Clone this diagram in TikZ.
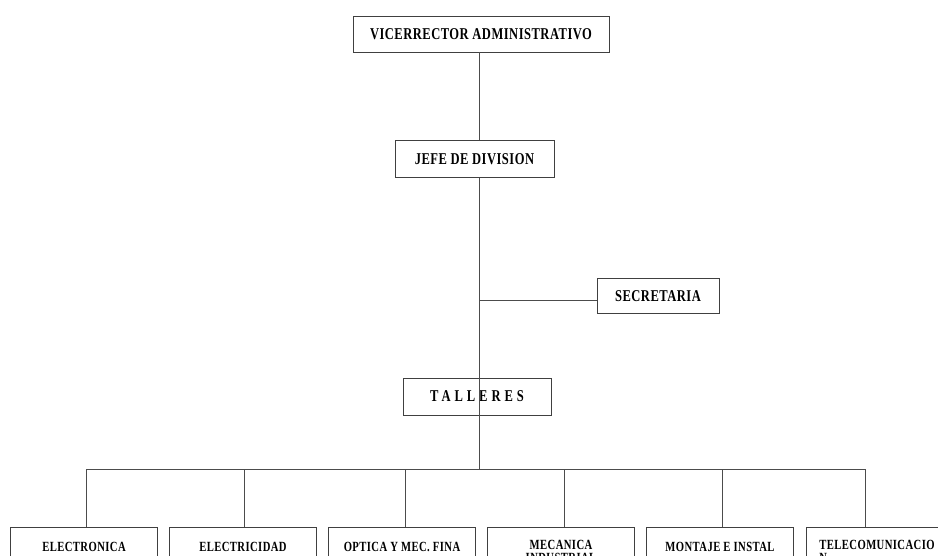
\documentclass[tikz,border=0pt]{standalone}
\usepackage{fontspec}
\newfontfamily\orgfont{Liberation Serif}[FakeStretch=0.76,LetterSpace=3]
\begin{document}
\begin{tikzpicture}[x=1pt,y=-1pt,
  box/.style={draw=black!75, line width=0.8pt, rectangle, inner sep=0pt, text=black,
    font=\orgfont\bfseries\fontsize{16.5}{18}\selectfont},
  sub/.style={draw=black!75, line width=0.8pt, rectangle, inner sep=0pt, anchor=north,
    minimum width=147pt, minimum height=40pt, align=center, text=black,
    font=\orgfont\bfseries\fontsize{14}{13.5}\selectfont},
  conn/.style={draw=black!70, line width=0.8pt}]
\useasboundingbox (0,0) rectangle (938,555);
\clip (0,0) rectangle (938,555);
% main chain
\node[box, minimum width=256pt, minimum height=36pt] (vice) at (481,34) {VICERRECTOR ADMINISTRATIVO};
\node[box, minimum width=159pt, minimum height=37pt] (jefe) at (474.5,159) {JEFE DE DIVISION};
\node[box, minimum width=122pt, minimum height=35pt] (sec) at (658,296) {SECRETARIA};
\node[box, minimum width=148pt, minimum height=37pt] (tal) at (477,396.5) {\addfontfeature{LetterSpace=24}TALLERES};
% bottom boxes
\node[sub] (b1) at (84,527) {ELECTRONICA};
\node[sub] (b2) at (243,527) {ELECTRICIDAD};
\node[sub] (b3) at (402,527) {OPTICA Y MEC. FINA};
\node[sub, minimum height=48pt] (b4) at (561,527) {MECANICA\\INDUSTRIAL};
\node[sub] (b5) at (720,527) {MONTAJE E INSTAL};
\node[sub, anchor=north west, minimum height=48pt, text width=121pt, inner xsep=13pt, align=left] (b6) at (806,527) {TELECOMUNICACIO\\N};
% coordinates
\coordinate (trunk) at (479,0);
\coordinate (sj) at (479,300);
\coordinate (bus) at (479,469);
\coordinate (d1) at (86,469);
\coordinate (d2) at (244,469);
\coordinate (d3) at (405,469);
\coordinate (d4) at (564,469);
\coordinate (d5) at (722,469);
\coordinate (d6) at (865,469);
% connectors
\draw[conn] (vice.south -| trunk) -- (jefe.north -| trunk);
\draw[conn] (jefe.south -| trunk) -- (bus);
\draw[conn] (sj) -- (sj -| sec.west);
\draw[conn] (d1) -- (d6);
\foreach \i in {1,...,6}{
  \draw[conn] (d\i) -- (d\i |- b\i.north);
}
\end{tikzpicture}
\end{document}
